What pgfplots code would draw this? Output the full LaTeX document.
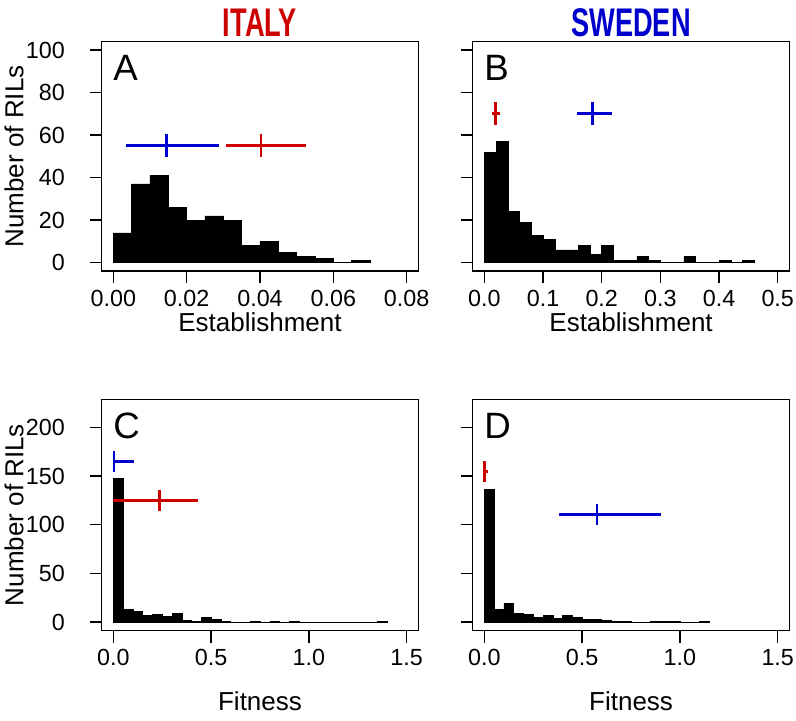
\documentclass[border=0pt]{standalone}
\usepackage{pgfplots}
\pgfplotsset{compat=1.18}
\usepackage{fontspec}
\setmainfont{Liberation Sans}
\usepackage{graphicx}
\definecolor{rred}{RGB}{205,0,0}
\definecolor{rblue}{RGB}{0,0,205}

\pgfplotsset{
  rstyle/.style={
    scale only axis,
    width=237.6pt,
    axis line style={line width=1.1pt},
    every tick/.style={line width=1.1pt, black},
    tick align=outside,
    major tick length=9pt,
    tick pos=left,
    scaled ticks=false,
    tick label style={font=\fontsize{17.5}{19}\selectfont},
    label style={font=\fontsize{19.5}{22}\selectfont},
    xticklabel style={anchor=north, yshift=-1.5pt},
    yticklabel style={anchor=east, xshift=-15pt},
    clip=true,
  },
  hist/.style={ybar interval, fill=black, draw=black, line width=0.4pt},
  eb/.style={mark=none, line width=2pt,
    error bars/.cd, x dir=both, x explicit, y dir=both, y fixed=#1,
    error mark=none, error bar style={line width=2.1pt}},
}

\newcommand{\panellabel}[1]{\node[anchor=base west, inner sep=0pt, font=\fontsize{27.5}{30}\selectfont] at (axis description cs:0.036,0.832) {#1};}

\begin{document}
\begin{tikzpicture}
\useasboundingbox (0,0) rectangle (597pt,-540.75pt);

% ---------------- A ----------------
\begin{axis}[rstyle,
  at={(76.2pt,-31.1pt)}, anchor=north west, height=172.3pt,
  xmin=-0.0032, xmax=0.0832, ymin=-4, ymax=104,
  xtick={0,0.02,0.04,0.06,0.08}, xticklabels={0.00,0.02,0.04,0.06,0.08},
  ytick={0,20,40,60,80,100}, yticklabels={0,20,40,60,80,100},
  xlabel={Establishment}, ylabel={Number of RILs},
  xlabel style={at={(axis description cs:0.5,-0.222)}, anchor=center},
  ylabel style={at={(axis description cs:-0.2765,0.5)}, anchor=center},
]
\addplot[hist] coordinates {
 (0.000,14) (0.005,37) (0.010,41) (0.015,26) (0.020,20) (0.025,22) (0.030,20)
 (0.035,8) (0.040,10) (0.045,5) (0.050,3) (0.055,2) (0.060,0) (0.065,1) (0.070,0)};
\addplot[rblue, eb=5.4] coordinates {(0.0144,55) += (0.0145,0) -= (0.0110,0)};
\addplot[rred, eb=5.4] coordinates {(0.0403,55) += (0.0122,0) -= (0.0096,0)};
\panellabel{A}
\end{axis}

% ---------------- B ----------------
\begin{axis}[rstyle,
  at={(354.5pt,-31.1pt)}, anchor=north west, height=172.3pt,
  xmin=-0.02, xmax=0.52, ymin=-4, ymax=104,
  xtick={0,0.1,0.2,0.3,0.4,0.5}, xticklabels={0.0,0.1,0.2,0.3,0.4,0.5},
  ytick={0,20,40,60,80,100}, yticklabels={},
  xlabel={Establishment},
  xlabel style={at={(axis description cs:0.5,-0.222)}, anchor=center},
]
\addplot[hist] coordinates {
 (0.00,52) (0.02,57) (0.04,24) (0.06,19) (0.08,13) (0.10,11) (0.12,6) (0.14,6)
 (0.16,8) (0.18,4) (0.20,8) (0.22,1) (0.24,1) (0.26,3) (0.28,1) (0.30,0) (0.32,0)
 (0.34,3) (0.36,0) (0.38,0) (0.40,1) (0.42,0) (0.44,1) (0.46,0)};
\addplot[rred, eb=5.5] coordinates {(0.0194,70) += (0.0073,0) -= (0.0068,0)};
\addplot[rblue, eb=5.5] coordinates {(0.1845,70) += (0.0335,0) -= (0.0275,0)};
\panellabel{B}
\end{axis}

% ---------------- C ----------------
\begin{axis}[rstyle,
  at={(76.2pt,-299.5pt)}, anchor=north west, height=173.5pt,
  xmin=-0.06, xmax=1.56, ymin=-8.8, ymax=228.8,
  xtick={0,0.5,1,1.5}, xticklabels={0.0,0.5,1.0,1.5},
  ytick={0,50,100,150,200}, yticklabels={0,50,100,150,200},
  xlabel={Fitness}, ylabel={Number of RILs},
  xlabel style={at={(axis description cs:0.5,-0.305)}, anchor=center},
  ylabel style={at={(axis description cs:-0.2765,0.5)}, anchor=center},
]
\addplot[hist] coordinates {
 (0.00,148) (0.05,13) (0.10,11) (0.15,7) (0.20,8) (0.25,6) (0.30,9) (0.35,2)
 (0.40,1) (0.45,5) (0.50,3) (0.55,1) (0.60,0) (0.65,0) (0.70,1) (0.75,0)
 (0.80,1) (0.85,0) (0.90,1) (0.95,0) (1.00,0) (1.05,0) (1.10,0) (1.15,0)
 (1.20,0) (1.25,0) (1.30,0) (1.35,1) (1.40,0)};
\addplot[rblue, eb=10.5] coordinates {(0.003,165) += (0.104,0) -= (0.003,0)};
\addplot[rred, eb=11] coordinates {(0.237,125) += (0.194,0) -= (0.237,0)};
\panellabel{C}
\end{axis}

% ---------------- D ----------------
\begin{axis}[rstyle,
  at={(354.5pt,-299.5pt)}, anchor=north west, height=173.5pt,
  xmin=-0.06, xmax=1.56, ymin=-8.8, ymax=228.8,
  xtick={0,0.5,1,1.5}, xticklabels={0.0,0.5,1.0,1.5},
  ytick={0,50,100,150,200}, yticklabels={},
  xlabel={Fitness},
  xlabel style={at={(axis description cs:0.5,-0.305)}, anchor=center},
]
\addplot[hist] coordinates {
 (0.00,136) (0.05,13) (0.10,19) (0.15,9) (0.20,8) (0.25,5) (0.30,7) (0.35,4)
 (0.40,7) (0.45,5) (0.50,3) (0.55,3) (0.60,2) (0.65,1) (0.70,1) (0.75,0)
 (0.80,0) (0.85,1) (0.90,1) (0.95,1) (1.00,0) (1.05,0) (1.10,1) (1.15,0)};
\addplot[rred, eb=10.7] coordinates {(0.0,155) += (0.017,0) -= (0.0,0)};
\addplot[rblue, eb=11] coordinates {(0.576,110.5) += (0.329,0) -= (0.193,0)};
\panellabel{D}
\end{axis}

\node[anchor=base, text=rred, font=\fontsize{30}{32}\selectfont\bfseries] at (195pt,-27.6pt) {\scalebox{0.68}[1]{ITALY}};
\node[anchor=base, text=rblue, font=\fontsize{30}{32}\selectfont\bfseries] at (473.3pt,-27.6pt) {\scalebox{0.68}[1]{SWEDEN}};
\end{tikzpicture}
\end{document}
